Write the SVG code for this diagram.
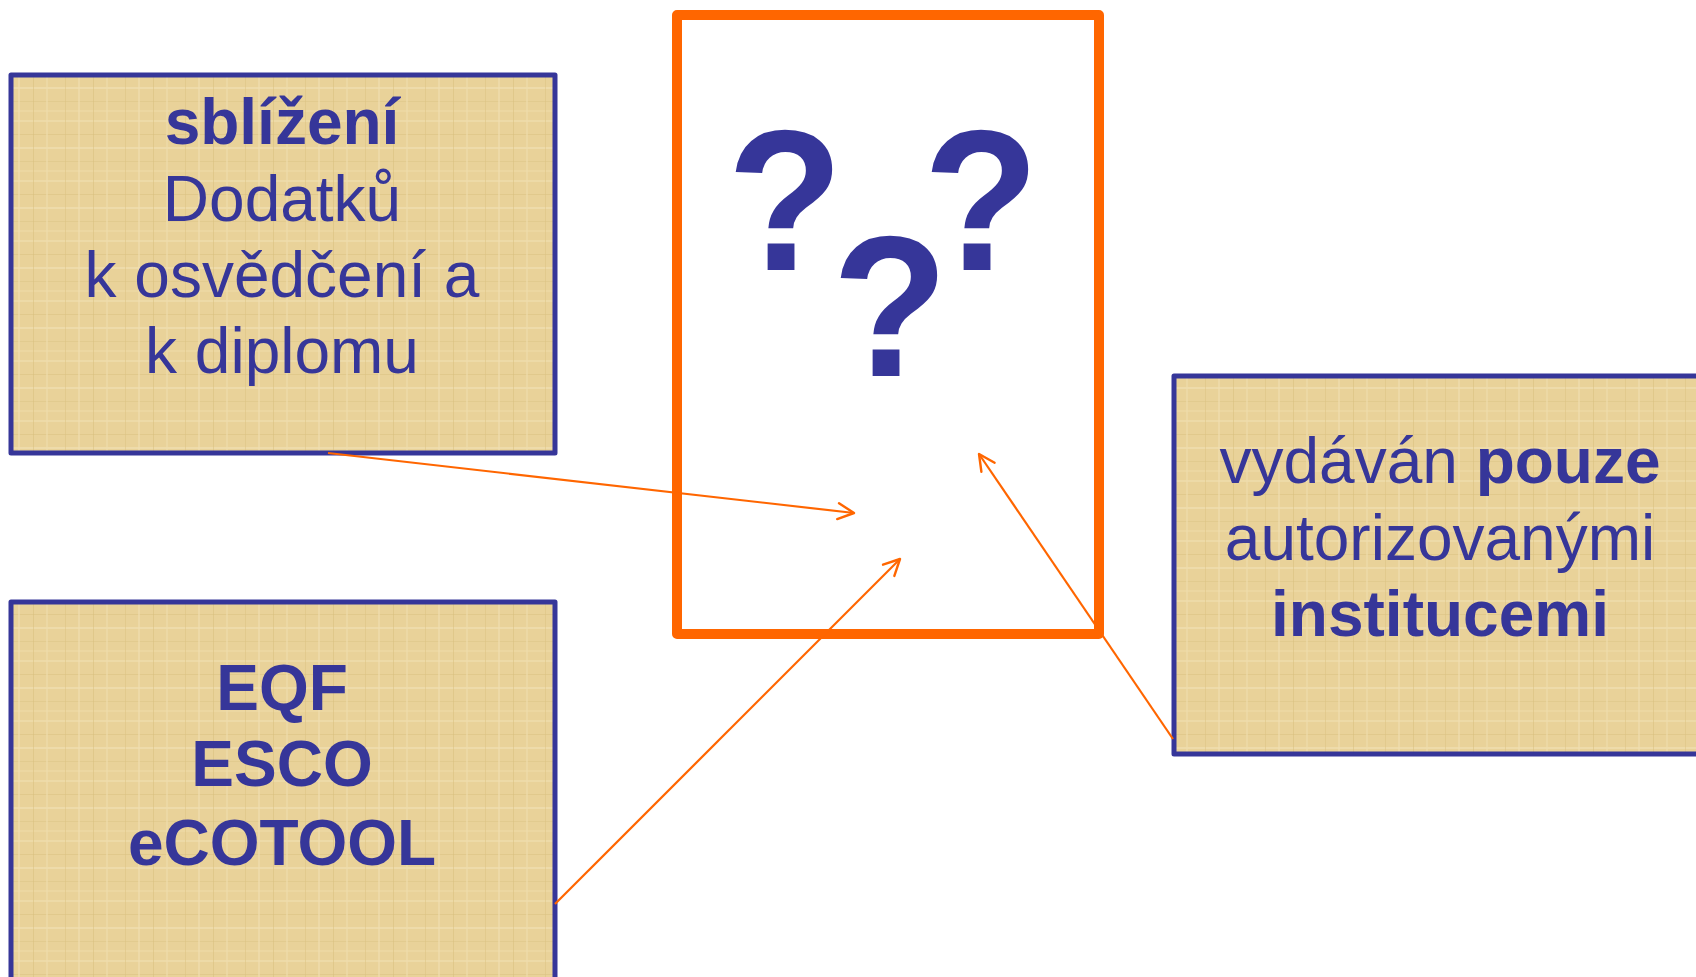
<svg xmlns="http://www.w3.org/2000/svg" width="1696" height="977" viewBox="0 0 1696 977">
<defs>
<style>
.box{fill:url(#parch);stroke:#363699;stroke-width:5;stroke-linejoin:round}
.t{font-family:"Liberation Sans",Arial,sans-serif;font-size:64px;fill:#363699;text-anchor:middle}
.b{font-weight:bold}
.q{font-family:"Liberation Sans",Arial,sans-serif;font-size:190px;font-weight:bold;fill:#363699;text-anchor:middle}
.c{stroke:#FF6600;stroke-width:2.2;fill:none;marker-end:url(#ah)}
</style>
<pattern id="parch" patternUnits="userSpaceOnUse" width="60" height="60">
<rect width="60" height="60" fill="#E9D299"/>
<rect x="0" y="0" width="60" height="2" fill="#F0DEAD" opacity="0.7"/>
<rect x="0" y="14" width="60" height="1" fill="#D9BF80" opacity="0.5"/>
<rect x="0" y="27" width="60" height="2" fill="#F1E1B6" opacity="0.6"/>
<rect x="0" y="41" width="60" height="1" fill="#DCC385" opacity="0.5"/>
<rect x="0" y="50" width="60" height="2" fill="#EEDAA6" opacity="0.6"/>
<rect x="5" y="0" width="1" height="60" fill="#DBC182" opacity="0.5"/>
<rect x="18" y="0" width="2" height="60" fill="#F0DEB0" opacity="0.6"/>
<rect x="33" y="0" width="1" height="60" fill="#D8BD7C" opacity="0.5"/>
<rect x="46" y="0" width="2" height="60" fill="#EFDCAC" opacity="0.6"/>
</pattern>
<marker id="ah" viewBox="0 0 20 20" refX="18" refY="10" markerWidth="20" markerHeight="20" markerUnits="userSpaceOnUse" orient="auto">
<path d="M2,2 L18,10 L2,18" fill="none" stroke="#FF6600" stroke-width="2.4" stroke-linecap="round" stroke-linejoin="round"/>
</marker>
</defs>
<rect width="1696" height="977" fill="#FFFFFF"/>
<g id="center-doc">
<rect x="677" y="15" width="422" height="619" fill="#FFFFFF" stroke="#FF6600" stroke-width="10" stroke-linejoin="round"/>
<text class="q" transform="scale(1,1.05)"><tspan x="785" y="257.1">?</tspan><tspan x="981" y="257.1">?</tspan><tspan x="890" y="358.1">?</tspan></text>
</g>
<g id="box-sblizeni">
<rect class="box" x="11" y="75" width="544" height="378"/>
<text class="t b" x="282" y="144">sblížení</text>
<text class="t" x="282" y="221">Dodatků</text>
<text class="t" x="282" y="297">k osvědčení a</text>
<text class="t" x="282" y="373">k diplomu</text>
</g>
<g id="box-eqf">
<rect class="box" x="11" y="602" width="544" height="400"/>
<text class="t b" x="282" y="710">EQF</text>
<text class="t b" x="282" y="786">ESCO</text>
<text class="t b" x="282" y="865">eCOTOOL</text>
</g>
<g id="box-vydavan">
<rect class="box" x="1174" y="376" width="560" height="378"/>
<text class="t" x="1440" y="483">vydáván <tspan class="b">pouze</tspan></text>
<text class="t" x="1440" y="560">autorizovanými</text>
<text class="t b" x="1440" y="636">institucemi</text>
</g>
<g id="connectors">
<line class="c" x1="328" y1="453" x2="854" y2="513"/>
<line class="c" x1="555" y1="904" x2="900" y2="559"/>
<line class="c" x1="1173" y1="739" x2="979" y2="454"/>
</g>
</svg>
